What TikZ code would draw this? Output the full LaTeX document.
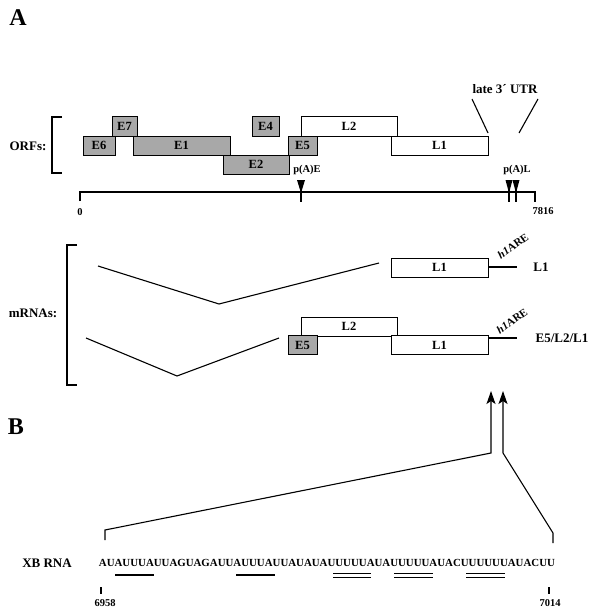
\documentclass[tikz,border=0pt]{standalone}
\usepackage{fontspec}
\setmainfont{Liberation Serif}
\usetikzlibrary{arrows.meta}
\definecolor{boxgray}{RGB}{168,168,168}
\newcommand{\myfs}[1]{\fontsize{#1}{#1}\selectfont\bfseries}
\begin{document}
\begin{tikzpicture}[x=1pt,y=-1pt,
  every node/.style={inner sep=0pt, outer sep=0pt},
  ln/.style={line width=1.1pt},
  box/.style={draw, line width=1pt, minimum height=19pt, font=\myfs{12.5}},
  gbox/.style={box, fill=boxgray},
  wbox/.style={box, fill=white},
  lab/.style={font=\myfs{13}},
  small/.style={font=\myfs{10.5}},
  arelab/.style={font=\myfs{11}, rotate=35}
]
\useasboundingbox (0,0) rectangle (594,615);
\fill[white] (0,0) rectangle (594,615);

% panel labels
\node[font=\myfs{24}] (pA) at (18,18) {A};
\node[font=\myfs{24}] (pB) at (16,427) {B};

% ORFs
\node[lab] (orfs) at (28,146) {ORFs:};
\draw[ln] (62,117) -- (52,117) -- (52,173) -- (62,173);

\node[gbox, minimum width=32pt] (e6) at (99,145.5) {E6};
\node[gbox, minimum width=25pt] (e7) at (124.5,126.5) {E7};
\node[gbox, minimum width=97pt] (e1) at (181.5,145.5) {E1};
\node[gbox, minimum width=66pt] (e2) at (256,164.5) {E2};
\node[gbox, minimum width=27pt] (e4) at (265.5,126.5) {E4};
\node[wbox, minimum width=96pt] (l2) at (349,126.5) {L2};
\node[gbox, minimum width=29pt] (e5) at (302.5,145.5) {E5};
\node[wbox, minimum width=97pt] (l1) at (439.5,145.5) {L1};

% late 3' UTR
\node[lab] (utr) at (505,89) {late 3´ UTR};
\coordinate (u1) at (472,99); \coordinate (u2) at (488,133);
\coordinate (u3) at (538,99); \coordinate (u4) at (519,133);
\draw[ln] (u1) -- (u2);
\draw[ln] (u3) -- (u4);

% genome axis
\coordinate (ax0) at (80,192); \coordinate (ax1) at (535,192);
\draw[ln] (80,201) -- (ax0) -- (ax1) -- (535,202);
\node[small] (n0) at (80,212) {0};
\node[small] (n7816) at (543,211) {7816};

% poly(A) sites
\node[small] (pae) at (307,170) {p(A)E};
\fill (297,180) -- (305,180) -- (301,193) -- cycle;
\draw[ln] (301,182) -- (301,202);
\node[small] (pal) at (517,170) {p(A)L};
\fill (505.5,180) -- (512.5,180) -- (509,193) -- cycle;
\fill (512.5,180) -- (519.5,180) -- (516,193) -- cycle;
\draw[ln] (509,182) -- (509,202);
\draw[ln] (516,182) -- (516,202);

% mRNAs
\node[lab] (mrnas) at (33,313) {mRNAs:};
\draw[ln] (77,245) -- (67,245) -- (67,385) -- (77,385);

% L1 mRNA
\coordinate (i1a) at (98,266); \coordinate (i1b) at (219,304); \coordinate (i1c) at (379,263);
\draw[ln] (i1a) -- (i1b) -- (i1c);
\node[wbox, minimum width=97pt] (ml1) at (439.5,267.5) {L1};
\coordinate (t1) at (517,267);
\draw[ln] (ml1.east |- t1) -- (t1);
\node[arelab] (are1) at (513,246) {\textit{h1}ARE};
\node[lab] (lab1) at (541,267) {L1};

% E5/L2/L1 mRNA
\coordinate (i2a) at (86,338); \coordinate (i2b) at (177,376); \coordinate (i2c) at (279,338);
\draw[ln] (i2a) -- (i2b) -- (i2c);
\node[wbox, minimum width=96pt] (ml2) at (349,326.5) {L2};
\node[gbox, minimum width=29pt, minimum height=18.5pt] (me5) at (302.5,345) {E5};
\node[wbox, minimum width=97pt, minimum height=18.5pt] (ml1b) at (439.5,345) {L1};
\coordinate (t2) at (517,338);
\draw[ln] (ml1b.east |- t2) -- (t2);
\node[arelab] (are2) at (512,321) {\textit{h1}ARE};
\node[lab] (lab2) at (562,338) {E5/L2/L1};

% zoom arrows
\coordinate (z1) at (105,540); \coordinate (z2) at (105,530);
\coordinate (z3) at (491,453); \coordinate (z4) at (491,391);
\coordinate (y1) at (553,543); \coordinate (y2) at (553,533);
\coordinate (y3) at (503,453); \coordinate (y4) at (503,391);
\draw[ln, -{Stealth[length=13pt,width=9pt,inset=3pt]}] (z1) -- (z2) -- (z3) -- (z4);
\draw[ln, -{Stealth[length=13pt,width=9pt,inset=3pt]}] (y1) -- (y2) -- (y3) -- (y4);

% sequence
\node[lab] (xb) at (47,563) {XB RNA};
\node[font=\myfs{10.86}] (seq) at (327,563) {AUAUUUAUUAGUAGAUUAUUUAUUAUAUAUUUUUAUAUUUUUAUACUUUUUUAUACUU};
\draw[line width=2.2pt] (115,575) -- (154,575);
\draw[line width=2.2pt] (236,575) -- (275,575);
\draw[line width=0.9pt] (333,573.8) -- (371,573.8) (333,577) -- (371,577);
\draw[line width=0.9pt] (394,573.8) -- (433,573.8) (394,577) -- (433,577);
\draw[line width=0.9pt] (466,573.8) -- (505,573.8) (466,577) -- (505,577);

\draw[ln] (101,587) -- (101,594);
\node[small] (s1) at (105,603) {6958};
\draw[ln] (549,587) -- (549,594);
\node[small] (s2) at (550,603) {7014};
\end{tikzpicture}
\end{document}
